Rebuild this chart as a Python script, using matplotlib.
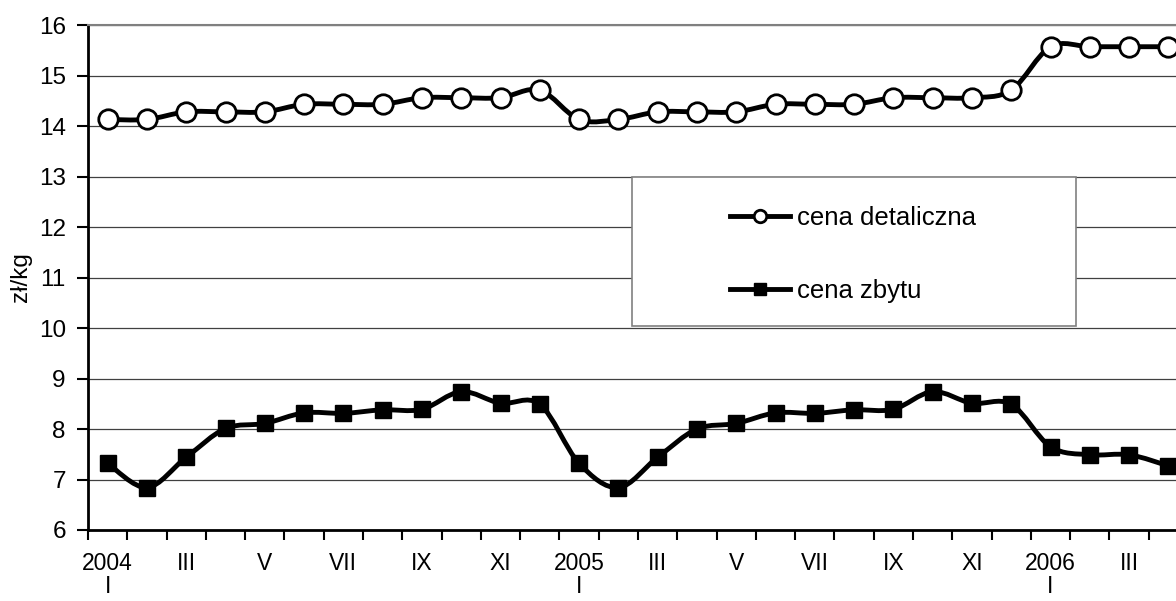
import numpy as np
import matplotlib
matplotlib.use('Agg')
import matplotlib.pyplot as plt
from matplotlib.path import Path
from matplotlib.patches import PathPatch, Rectangle
from matplotlib.lines import Line2D

plt.rcParams['font.family'] = ['Liberation Sans', 'DejaVu Sans']

# ── DATA ──
months = ['I', 'II', 'III', 'IV', 'V', 'VI', 'VII', 'VIII', 'IX', 'X', 'XI', 'XII']
years = ['2004', '2005', '2006']
n_points = 28  # 2004 I .. 2006 IV

cena_detaliczna = [14.13, 14.13, 14.28, 14.28, 14.28, 14.43, 14.43, 14.43, 14.56, 14.56, 14.56, 14.71,
                   14.13, 14.13, 14.28, 14.28, 14.28, 14.43, 14.43, 14.43, 14.56, 14.56, 14.56, 14.71,
                   15.57, 15.57, 15.57, 15.57]
cena_zbytu = [7.32, 6.84, 7.44, 8.01, 8.11, 8.32, 8.31, 8.38, 8.39, 8.74, 8.51, 8.49,
              7.32, 6.84, 7.44, 8.00, 8.11, 8.32, 8.31, 8.38, 8.39, 8.74, 8.51, 8.49,
              7.65, 7.49, 7.49, 7.27]

labels = []
for i in range(n_points):
    m = months[i % 12]
    if i % 12 == 0:
        labels.append(years[i // 12] + '\n' + m)
    else:
        labels.append(m)


def smooth_path(x, y):
    # Excel-like smoothed line: cubic Bezier segments through every point
    x = np.asarray(x, float)
    y = np.asarray(y, float)
    verts = [(x[0], y[0])]
    codes = [Path.MOVETO]
    n = len(x)
    for i in range(n - 1):
        i0 = max(i - 1, 0)
        i3 = min(i + 2, n - 1)
        c1 = (x[i] + (x[i + 1] - x[i0]) / 6, y[i] + (y[i + 1] - y[i0]) / 6)
        c2 = (x[i + 1] - (x[i3] - x[i]) / 6, y[i + 1] - (y[i3] - y[i]) / 6)
        verts += [c1, c2, (x[i + 1], y[i + 1])]
        codes += [Path.CURVE4] * 3
    return Path(verts, codes)


fig = plt.figure(figsize=(11.76, 6.01), dpi=100)
ax = fig.add_axes([88 / 1176, 1 - 530 / 601, 1100 / 1176, 505 / 601])

x = np.arange(n_points)
for vals, mk, ms, fc in [(cena_detaliczna, 'o', 14, 'white'), (cena_zbytu, 's', 11, 'black')]:
    ax.add_patch(PathPatch(smooth_path(x, vals), facecolor='none', edgecolor='black',
                           lw=3.5, zorder=3, clip_on=False))
    ax.plot(x, vals, linestyle='none', marker=mk, markersize=ms, markerfacecolor=fc,
            markeredgecolor='black', markeredgewidth=2 if mk == 'o' else 1,
            zorder=4, clip_on=False)

ax.set_xlim(-0.5, n_points - 0.5)
ax.set_ylim(6, 16)
ax.set_yticks(range(6, 17))
ax.yaxis.grid(True, color='#404040', lw=0.9)
ax.set_axisbelow(True)

ax.set_xticks(np.arange(-0.5, n_points, 1.0))
ax.set_xticklabels([])
ax.set_xticks(x[::2], minor=True)
ax.set_xticklabels(labels[::2], minor=True, linespacing=1.0)
ax.tick_params(axis='x', which='major', length=7, width=1.5, direction='out')
ax.tick_params(axis='x', which='minor', length=0, pad=16, labelsize=16.5)
ax.tick_params(axis='y', length=8, width=1.5, pad=8, labelsize=17.5)

for s in ['left', 'bottom']:
    ax.spines[s].set_linewidth(2)
ax.spines['top'].set_color('#808080')
ax.spines['top'].set_linewidth(1.5)
ax.spines['right'].set_visible(False)

ax.set_ylabel('zł/kg', fontsize=17.5, labelpad=5)

# legend box
ax.add_patch(Rectangle((0.4945, 0.404), 0.4035, 0.295, transform=ax.transAxes,
                       facecolor='white', edgecolor='#808080', lw=1.2, zorder=2.5))
handles = [Line2D([], [], color='black', lw=3.5, marker='o', markersize=9,
                  markerfacecolor='white', markeredgewidth=2),
           Line2D([], [], color='black', lw=3.5, marker='s', markersize=8,
                  markerfacecolor='black')]
ax.legend(handles, ['cena detaliczna', 'cena zbytu'], loc='center left',
          bbox_to_anchor=(0.5836, 0.545), frameon=False, fontsize=18.5,
          handlelength=2.35, handletextpad=0.24, labelspacing=1.9,
          borderpad=0, borderaxespad=0)

plt.savefig('out.png', dpi=100)
